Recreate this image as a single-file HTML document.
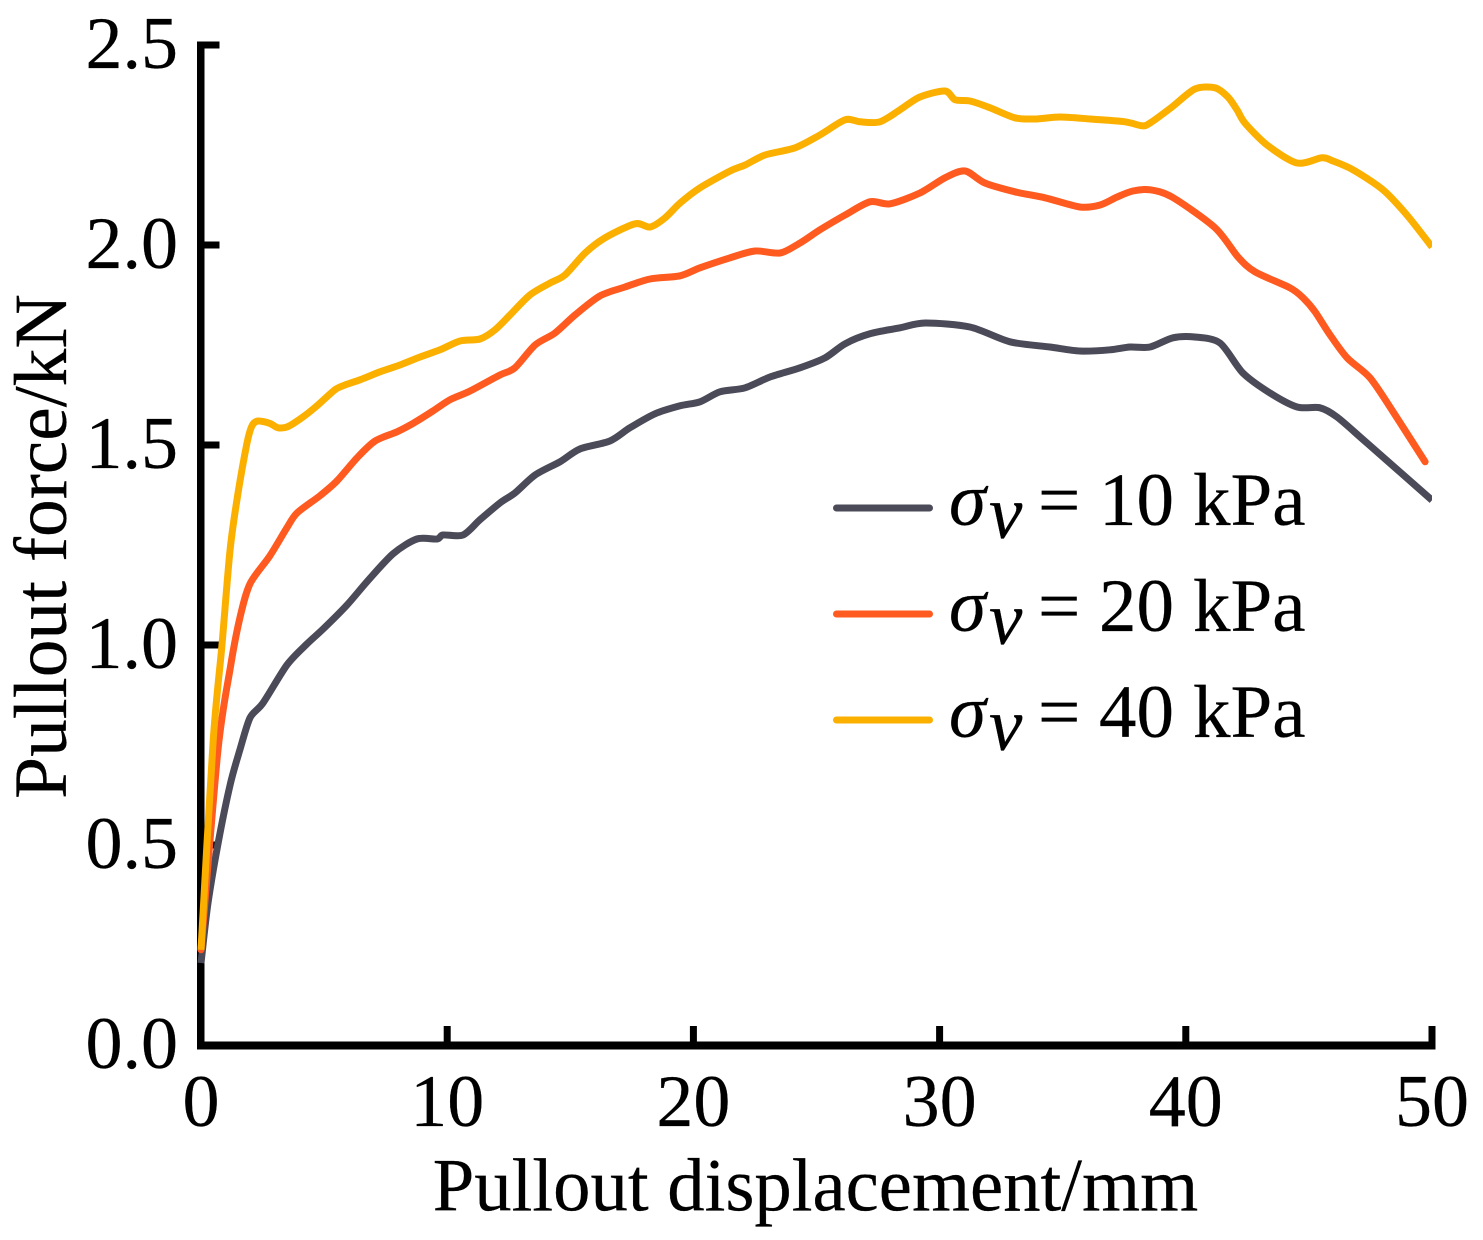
<!DOCTYPE html>
<html lang="en">
<head>
<meta charset="utf-8">
<title>Pullout force vs displacement</title>
<style>
html,body{margin:0;padding:0;background:#fff;}
svg{display:block;}
text{font-family:"Liberation Serif","Times New Roman",serif;fill:#000;stroke:#000;stroke-width:0.25px;}
</style>
</head>
<body>
<svg id="chart" xmlns="http://www.w3.org/2000/svg" width="1483" height="1240" viewBox="0 0 1483 1240">
  <defs><clipPath id="plot-clip"><rect x="197" y="30" width="1235" height="1020"></rect></clipPath></defs>
  <g id="ticks"></g>
  <g id="axes">
    <rect x="197" y="41.5" width="7.5" height="1008"></rect>
    <rect x="197" y="1041.5" width="1238.5" height="8"></rect>
  </g>
  <g id="tick-labels"></g>
  <g id="series" clip-path="url(#plot-clip)"></g>
  <text x="815.5" y="1210.5" font-size="74.7" text-anchor="middle">Pullout displacement/mm</text>
  <text transform="translate(66,546.5) rotate(-90)" font-size="75.4" text-anchor="middle">Pullout force/kN</text>
  <g>
    <g>
      <line x1="836.5" x2="929.5" y1="508" y2="508" stroke="#4a4a58" stroke-width="7" stroke-linecap="round"></line>
      <text font-size="75" y="525"><tspan x="949" font-style="italic">σ</tspan><tspan x="989" y="538" font-style="italic">v</tspan><tspan x="1038" y="525">=</tspan><tspan x="1099">10</tspan><tspan x="1193">kPa</tspan></text>
    </g>
    <g>
      <line x1="836.5" x2="929.5" y1="614" y2="614" stroke="#ff5a1f" stroke-width="7" stroke-linecap="round"></line>
      <text font-size="75" y="631"><tspan x="949" font-style="italic">σ</tspan><tspan x="989" y="644" font-style="italic">v</tspan><tspan x="1038" y="631">=</tspan><tspan x="1099">20</tspan><tspan x="1193">kPa</tspan></text>
    </g>
    <g>
      <line x1="836.5" x2="929.5" y1="720" y2="720" stroke="#fbb000" stroke-width="7" stroke-linecap="round"></line>
      <text font-size="75" y="737"><tspan x="949" font-style="italic">σ</tspan><tspan x="989" y="750" font-style="italic">v</tspan><tspan x="1038" y="737">=</tspan><tspan x="1099">40</tspan><tspan x="1193">kPa</tspan></text>
    </g>
  </g>
</svg>
<script>
const xTickValues = [0, 10, 20, 30, 40, 50];
const xTickLabels = ["0", "10", "20", "30", "40", "50"];
const yTickValues = [0, 0.5, 1, 1.5, 2, 2.5];
const yTickLabels = ["0.0", "0.5", "1.0", "1.5", "2.0", "2.5"];

const darkDisplacement = [0,.28,.69,1.18,1.58,1.99,2.52,3.49,4.31,4.96,5.93,6.74,7.8,8.77,9.59,9.83,10.64,11.33,12.14,12.75,13.57,14.58,15.39,16.61,17.42,18.44,19.46,20.27,21.08,22.1,23.11,24.33,25.35,26.16,27.17,28.39,29.41,31.23,32.86,34.48,35.7,36.92,37.73,38.55,39.48,40.37,41.39,42.32,43.42,44.52,45.45,46.14,47.36,50];
const darkForce = [.205,.353,.503,.65,.738,.818,.855,.95,1.003,1.04,1.1,1.158,1.228,1.265,1.265,1.275,1.275,1.313,1.355,1.38,1.425,1.458,1.49,1.51,1.543,1.578,1.598,1.608,1.633,1.643,1.67,1.693,1.718,1.753,1.778,1.793,1.805,1.795,1.758,1.745,1.735,1.738,1.745,1.745,1.768,1.77,1.755,1.68,1.63,1.595,1.593,1.57,1.505,1.362];

const orangeDisplacement = [0,.69,1.18,1.58,1.99,2.8,3.49,3.9,4.83,5.52,6.34,7.07,7.96,8.61,9.42,10.11,10.93,12.14,12.75,13.57,14.38,15.19,16.21,17.22,18.24,19.46,20.27,21.49,22.5,23.52,24.33,25.14,26.16,27.17,27.99,29.2,30.22,31.03,31.84,33.06,34.28,35.7,36.52,37.21,37.85,38.55,39.44,41.19,42.12,42.81,44.23,44.76,45.25,45.86,46.55,47.48,48.42,49.72];
const orangeForce = [.238,.738,.94,1.068,1.153,1.223,1.293,1.33,1.373,1.41,1.468,1.51,1.533,1.554,1.585,1.613,1.635,1.675,1.693,1.75,1.78,1.825,1.873,1.895,1.915,1.923,1.943,1.968,1.985,1.98,2.005,2.038,2.075,2.108,2.103,2.13,2.168,2.185,2.155,2.133,2.118,2.095,2.1,2.12,2.135,2.138,2.12,2.043,1.97,1.933,1.893,1.868,1.833,1.775,1.718,1.668,1.583,1.458];

const yellowDisplacement = [0,.49,.85,1.18,1.5,1.87,2.07,2.32,2.8,3.13,3.53,4.14,4.75,5.44,5.85,6.46,7.27,8.08,8.9,9.71,10.52,11.33,11.94,12.55,13.36,14.18,14.78,15.6,16.41,17.63,18.24,18.85,19.46,20.27,21.49,22.1,22.91,24.13,25.14,26.16,26.77,27.58,28.39,29.2,30.22,30.63,31.23,32.05,33.06,33.87,34.89,36.11,37.53,38.22,38.55,39.44,40.37,41.19,41.71,42.08,42.4,43.3,44.52,45.53,45.98,46.79,48.01,48.98,50];
const yellowForce = [.238,.758,.998,1.238,1.378,1.505,1.548,1.56,1.554,1.543,1.546,1.57,1.6,1.638,1.65,1.663,1.683,1.7,1.72,1.738,1.76,1.765,1.788,1.825,1.875,1.905,1.925,1.98,2.018,2.053,2.045,2.068,2.105,2.143,2.185,2.2,2.225,2.243,2.275,2.313,2.308,2.308,2.338,2.37,2.385,2.363,2.36,2.343,2.318,2.315,2.32,2.315,2.308,2.298,2.305,2.345,2.39,2.393,2.37,2.338,2.305,2.25,2.205,2.218,2.21,2.188,2.138,2.075,1.995];

const svgNS = "http://www.w3.org/2000/svg";
function xScale(v) { return 201 + v * 24.62; }
function yScale(v) { return 1045 - v * 400; }

const tickGroup = document.getElementById("ticks");
const labelGroup = document.getElementById("tick-labels");
const seriesGroup = document.getElementById("series");

xTickValues.forEach(function (v, i) {
  const t = document.createElementNS(svgNS, "rect");
  t.setAttribute("x", xScale(v) - 3.5);
  t.setAttribute("y", 1026);
  t.setAttribute("width", 7);
  t.setAttribute("height", 20);
  
  
  tickGroup.appendChild(t);
  const l = document.createElementNS(svgNS, "text");
  l.setAttribute("x", xScale(v));
  l.setAttribute("y", 1126);
  l.setAttribute("font-size", "74");
  l.setAttribute("text-anchor", "middle");
  l.textContent = xTickLabels[i];
  
  
  labelGroup.appendChild(l);
});

yTickValues.forEach(function (v, i) {
  const t = document.createElementNS(svgNS, "rect");
  t.setAttribute("x", 200);
  t.setAttribute("y", yScale(v) - 3.5);
  t.setAttribute("width", 19.5);
  t.setAttribute("height", 7);
  
  
  tickGroup.appendChild(t);
  const l = document.createElementNS(svgNS, "text");
  l.setAttribute("x", 178);
  l.setAttribute("y", yScale(v) + 23);
  l.setAttribute("font-size", "74");
  l.setAttribute("text-anchor", "end");
  l.textContent = yTickLabels[i];
  
  
  labelGroup.appendChild(l);
});

function drawSeries(xs, ys, color) {
  const pts = xs.map(function (x, i) { return [xScale(x), yScale(ys[i])]; });
  let d = "M" + pts[0][0].toFixed(1) + " " + pts[0][1].toFixed(1);
  for (let i = 0; i < pts.length - 1; i++) {
    const p0 = pts[Math.max(i - 1, 0)], p1 = pts[i], p2 = pts[i + 1], p3 = pts[Math.min(i + 2, pts.length - 1)];
    const k = 0.14;
    const c1x = p1[0] + (p2[0] - p0[0]) * k, c1y = p1[1] + (p2[1] - p0[1]) * k;
    const c2x = p2[0] - (p3[0] - p1[0]) * k, c2y = p2[1] - (p3[1] - p1[1]) * k;
    d += "C" + c1x.toFixed(1) + " " + c1y.toFixed(1) + " " + c2x.toFixed(1) + " " + c2y.toFixed(1) + " " + p2[0].toFixed(1) + " " + p2[1].toFixed(1);
  }
  const p = document.createElementNS(svgNS, "path");
  p.setAttribute("d", d);
  p.setAttribute("fill", "none");
  p.setAttribute("stroke", color);
  p.setAttribute("stroke-width", "7");
  p.setAttribute("stroke-linejoin", "round");
  seriesGroup.appendChild(p);
  return p;
}

const line10 = drawSeries(darkDisplacement, darkForce, "#4a4a58");


const line20 = drawSeries(orangeDisplacement, orangeForce, "#ff5a1f");


line20.setAttribute("stroke-linecap", "round");
const line40 = drawSeries(yellowDisplacement, yellowForce, "#fbb000");


</script>
</body>
</html>
